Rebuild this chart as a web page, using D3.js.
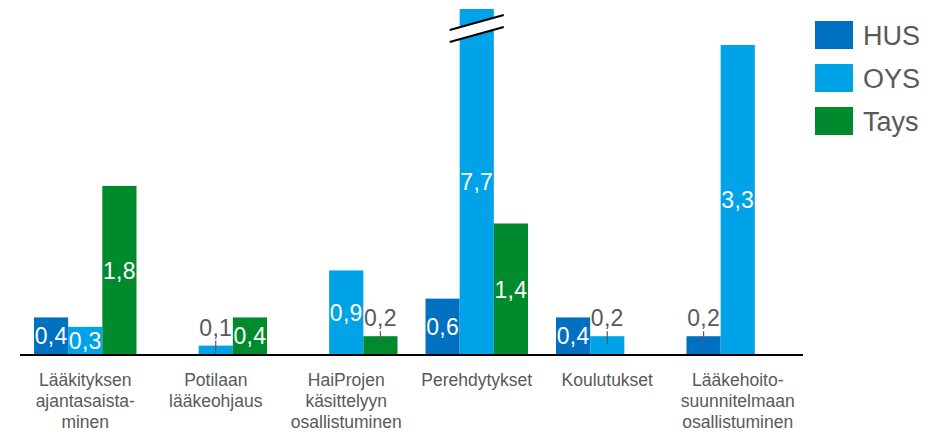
<!DOCTYPE html>
<html>
<head>
<meta charset="utf-8">
<script src="https://cdn.jsdelivr.net/npm/d3@7"></script>
<style>
  html, body { margin: 0; padding: 0; background: #fff; }
  svg { display: block; font-family: "Liberation Sans", Arial, sans-serif; }
</style>
</head>
<body>
<svg id="chart" width="938" height="435"></svg>
<script>
// Categories (label lines) and series
const categories = [
  ["Lääkityksen", "ajantasaista-", "minen"],
  ["Potilaan", "lääkeohjaus"],
  ["HaiProjen", "käsittelyyn", "osallistuminen"],
  ["Perehdytykset"],
  ["Koulutukset"],
  ["Lääkehoito-", "suunnitelmaan", "osallistuminen"]
];
const seriesNames = ["HUS", "OYS", "Tays"];
const husValues  = [0.4, null, null, 0.6, 0.4, 0.2];
const oysValues  = [0.3, 0.1, 0.9, 7.7, 0.2, 3.3];
const taysValues = [1.8, 0.4, 0.2, 1.4, null, null];

const colors = { HUS: "#0070c0", OYS: "#00a2e8", Tays: "#008a2e" };
const textGray = "#595959";

const svg = d3.select("#chart");
const baseY = 355, topY = 9;
const left = 20, right = 803;

const x0 = d3.scaleBand().domain(d3.range(categories.length)).range([left, right]);
const groupPad = 14;
const x1 = d3.scaleBand().domain(seriesNames).range([groupPad, x0.bandwidth() - groupPad]);
// values beyond the top are clamped and shown with an axis break
const y = d3.scaleLinear().domain([0, 3.683]).range([baseY, topY]).clamp(true);

const data = [];
categories.forEach((c, i) => {
  [husValues, oysValues, taysValues].forEach((arr, s) => {
    if (arr[i] != null) data.push({ cat: i, series: seriesNames[s], value: arr[i] });
  });
});

const fmt = v => v.toFixed(1).replace(".", ",");

svg.append("g").selectAll("rect").data(data).join("rect")
  .attr("x", d => x0(d.cat) + x1(d.series))
  .attr("width", x1.bandwidth())
  .attr("y", d => y(d.value))
  .attr("height", d => baseY - y(d.value))
  .attr("fill", d => colors[d.series]);

// value labels: inside tall bars, above short ones with a leader line
const labels = svg.append("g").attr("font-size", 23).attr("letter-spacing", 0.3);
data.forEach(d => {
  const cx = x0(d.cat) + x1(d.series) + x1.bandwidth() / 2;
  const top = y(d.value);
  if (baseY - top > 26) {
    labels.append("text")
      .attr("x", cx).attr("y", (top + baseY) / 2)
      .attr("dy", "0.36em")
      .attr("text-anchor", "middle")
      .attr("fill", "#fff")
      .text(fmt(d.value));
  } else {
    labels.append("text")
      .attr("x", cx).attr("y", top - 10)
      .attr("text-anchor", "middle")
      .attr("fill", textGray)
      .text(fmt(d.value));
    labels.append("line")
      .attr("x1", cx).attr("x2", cx)
      .attr("y1", top - 5).attr("y2", top + 8)
      .attr("stroke", textGray).attr("stroke-width", 1.2);
  }
});

// axis break over the clamped bar
data.filter(d => d.value > y.domain()[1]).forEach(d => {
  const cx = x0(d.cat) + x1(d.series) + x1.bandwidth() / 2;
  const g = svg.append("g");
  const xa = cx - 27, xb = cx + 27;
  g.append("polygon")
    .attr("points", `${xa},30 ${xb},15 ${xb},27 ${xa},42`)
    .attr("fill", "#fff");
  g.append("line").attr("x1", xa).attr("y1", 30).attr("x2", xb).attr("y2", 15)
    .attr("stroke", "#000").attr("stroke-width", 2.2);
  g.append("line").attr("x1", xa).attr("y1", 42).attr("x2", xb).attr("y2", 27)
    .attr("stroke", "#000").attr("stroke-width", 2.2);
});

// baseline
svg.append("line")
  .attr("x1", left).attr("x2", right)
  .attr("y1", baseY).attr("y2", baseY)
  .attr("stroke", "#000").attr("stroke-width", 2.2);

// category labels
const catG = svg.append("g").attr("font-size", 17.5).attr("fill", textGray).attr("text-anchor", "middle");
categories.forEach((lines, i) => {
  const cx = x0(i) + x0.bandwidth() / 2;
  const t = catG.append("text").attr("x", cx).attr("y", 386);
  lines.forEach((ln, k) => {
    t.append("tspan").attr("x", cx).attr("dy", k === 0 ? 0 : 21).text(ln);
  });
});

// legend
const leg = svg.append("g");
seriesNames.forEach((s, i) => {
  const gy = 21 + i * 43;
  leg.append("rect").attr("x", 815).attr("y", gy).attr("width", 38).attr("height", 28).attr("fill", colors[s]);
  leg.append("text").attr("x", 863).attr("y", gy + 14).attr("dy", "0.36em")
    .attr("font-size", 27).attr("fill", textGray).text(s);
});
</script>
</body>
</html>
